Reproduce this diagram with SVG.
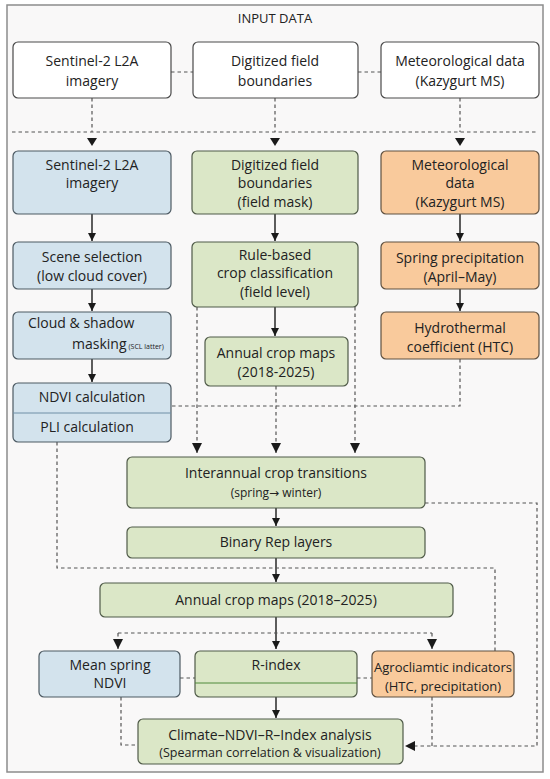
<svg xmlns="http://www.w3.org/2000/svg" width="550" height="779" viewBox="0 0 550 779">
<defs>
<marker id="ah" viewBox="0 0 10 10" refX="10" refY="5" markerWidth="8" markerHeight="8" markerUnits="userSpaceOnUse" orient="auto">
<path d="M0,0 L10,5 L0,10 z" fill="#1a1a1a"/>
</marker>
<marker id="ahd" viewBox="0 0 10 10" refX="10" refY="5" markerWidth="10" markerHeight="10" markerUnits="userSpaceOnUse" orient="auto">
<path d="M0,0 L10,5 L0,10 z" fill="#1a1a1a"/>
</marker>
<style>
text{font-family:"Open Sans","Noto Sans","DejaVu Sans",sans-serif;fill:#222;text-anchor:middle}
.t14{font-size:14px}
.t13{font-size:13px}
.t12{font-size:12px}
.white{fill:#ffffff;stroke:#4a4a4a;stroke-width:1.2}
.blue{fill:#d3e3ed;stroke:#4d5a63;stroke-width:1.2}
.green{fill:#dbe7c7;stroke:#4f5a48;stroke-width:1.2}
.orange{fill:#f9ca9c;stroke:#5e5040;stroke-width:1.2}
.solid{stroke:#1a1a1a;stroke-width:1.4;fill:none}
.dash{stroke:#555;stroke-width:1.2;fill:none;stroke-dasharray:3.5,3}
.tri{fill:#1a1a1a}
</style>
</defs>
<rect x="7" y="5" width="536" height="767" fill="#f9f8f8" stroke="#8c8c8c" stroke-width="1.5"/>
<text class="t13" x="275" y="23">INPUT DATA</text>

<g id="connectors">
<path class="dash" d="M171,72 H193 M358,72 H381"/>
<path class="dash" d="M92,98 V132 M275,98 V132 M460,98 V132"/>
<path class="dash" d="M12,132 H538"/>
<path class="tri" d="M87,138 H97 L92,146 z M270,138 H280 L275,146 z M455,138 H465 L460,146 z"/>
<path class="solid" d="M92,214 V241" marker-end="url(#ah)"/>
<path class="solid" d="M92,289 V311" marker-end="url(#ah)"/>
<path class="solid" d="M92,359 V382" marker-end="url(#ah)"/>
<path class="solid" d="M275,214 V241" marker-end="url(#ah)"/>
<path class="solid" d="M275,307 V336" marker-end="url(#ah)"/>
<path class="solid" d="M460,214 V241" marker-end="url(#ah)"/>
<path class="solid" d="M460,289 V311" marker-end="url(#ah)"/>
<path class="dash" d="M460,359 V406 H171"/>
<path class="dash" d="M197,307 V453" marker-end="url(#ahd)"/>
<path class="dash" d="M355,307 V453" marker-end="url(#ahd)"/>
<path class="dash" d="M276,386 V453" marker-end="url(#ahd)"/>
<path class="solid" d="M276,508 V526" marker-end="url(#ah)"/>
<path class="solid" d="M276,558 V582" marker-end="url(#ah)"/>
<path class="dash" d="M57,442 V568 H495 V651"/>
<path class="dash" d="M425,503 H537 V746 H405" marker-end="url(#ahd)"/>
<path class="solid" d="M276,617 V649" marker-end="url(#ah)"/>
<path class="dash" d="M118,633 H432"/>
<path class="dash" d="M118,633 V649" marker-end="url(#ahd)"/>
<path class="dash" d="M432,633 V649" marker-end="url(#ahd)"/>
<path class="dash" d="M180,678 H195 M357,678 H372"/>
<path class="solid" d="M276,697 V718" marker-end="url(#ah)"/>
<path class="dash" d="M121,697 V745 H138"/>
<path class="dash" d="M432,697 V746"/>
</g>

<g id="in-sentinel">
<rect class="white" x="13" y="42" width="158" height="56" rx="5"/>
<text class="t14" x="92" y="66">Sentinel-2 L2A</text>
<text class="t14" x="92" y="86">imagery</text>
</g>
<g id="in-fields">
<rect class="white" x="193" y="42" width="165" height="56" rx="5"/>
<text class="t14" x="275" y="66">Digitized field</text>
<text class="t14" x="275" y="86">boundaries</text>
</g>
<g id="in-meteo">
<rect class="white" x="381" y="42" width="158" height="56" rx="5"/>
<text class="t14" x="460" y="66">Meteorological data</text>
<text class="t14" x="460" y="86">(Kazygurt MS)</text>
</g>

<g id="sentinel">
<rect class="blue" x="13" y="151" width="158" height="63" rx="5"/>
<text class="t14" x="92" y="170">Sentinel-2 L2A</text>
<text class="t14" x="92" y="188">imagery</text>
</g>
<g id="scene">
<rect class="blue" x="13" y="242" width="158" height="47" rx="5"/>
<text class="t14" x="92" y="262">Scene selection</text>
<text class="t14" x="92" y="281">(low cloud cover)</text>
</g>
<g id="cloud">
<rect class="blue" x="13" y="312" width="158" height="47" rx="5"/>
<text class="t14" x="28" y="328" style="text-anchor:start">Cloud &amp; shadow</text>
<text class="t14" x="72" y="349" style="text-anchor:start">masking<tspan font-size="7" dx="2">(SCL latter)</tspan></text>
</g>
<g id="ndvi-pli">
<rect class="blue" x="13" y="383" width="158" height="59" rx="5"/>
<line x1="13" y1="413" x2="171" y2="413" stroke="#6f8fa6" stroke-width="1"/>
<text class="t14" x="92" y="402">NDVI calculation</text>
<text class="t14" x="87" y="432">PLI calculation</text>
</g>

<g id="fields">
<rect class="green" x="192" y="151" width="166" height="63" rx="5"/>
<text class="t14" x="275" y="170">Digitized field</text>
<text class="t14" x="275" y="188">boundaries</text>
<text class="t14" x="275" y="207">(field mask)</text>
</g>
<g id="rule">
<rect class="green" x="192" y="242" width="166" height="65" rx="5"/>
<text class="t14" x="275" y="260">Rule-based</text>
<text class="t14" x="275" y="278">crop classification</text>
<text class="t14" x="275" y="297">(field level)</text>
</g>
<g id="annual1">
<rect class="green" x="205" y="337" width="143" height="49" rx="5"/>
<text class="t14" x="276" y="358">Annual crop maps</text>
<text class="t14" x="276" y="377">(2018-2025)</text>
</g>

<g id="meteo">
<rect class="orange" x="381" y="151" width="158" height="63" rx="5"/>
<text class="t14" x="460" y="170">Meteorological</text>
<text class="t14" x="460" y="188">data</text>
<text class="t14" x="460" y="207">(Kazygurt MS)</text>
</g>
<g id="precip">
<rect class="orange" x="381" y="242" width="158" height="47" rx="5"/>
<text class="t14" x="460" y="263">Spring precipitation</text>
<text class="t14" x="460" y="282">(April–May)</text>
</g>
<g id="htc">
<rect class="orange" x="381" y="312" width="158" height="47" rx="5"/>
<text class="t14" x="460" y="333">Hydrothermal</text>
<text class="t14" x="460" y="352">coefficient (HTC)</text>
</g>

<g id="interannual">
<rect class="green" x="127" y="457" width="298" height="51" rx="5"/>
<text class="t14" x="276" y="478">Interannual crop transitions</text>
<text class="t12" x="276" y="497">(spring→ winter)</text>
</g>
<g id="binary">
<rect class="green" x="127" y="527" width="298" height="31" rx="5"/>
<text class="t14" x="276" y="547">Binary Rep layers</text>
</g>
<g id="annual2">
<rect class="green" x="100" y="583" width="353" height="34" rx="5"/>
<text class="t14" x="276" y="605">Annual crop maps (2018–2025)</text>
</g>

<g id="mean-ndvi">
<rect class="blue" x="39" y="651" width="141" height="46" rx="5"/>
<text class="t14" x="110" y="670">Mean spring</text>
<text class="t14" x="110" y="688">NDVI</text>
</g>
<g id="rindex">
<rect class="green" x="195" y="651" width="162" height="46" rx="5"/>
<line x1="195" y1="683" x2="357" y2="683" stroke="#4f8a3a" stroke-width="1"/>
<text class="t14" x="276" y="670">R-index</text>
</g>
<g id="agro">
<rect class="orange" x="372" y="651" width="142" height="46" rx="5"/>
<text class="t13" x="443" y="672">Agrocliamtic indicators</text>
<text class="t13" x="443" y="691">(HTC, precipitation)</text>
</g>
<g id="climate">
<rect class="green" x="138" y="719" width="265" height="45" rx="5"/>
<text class="t14" x="270" y="740">Climate–NDVI–R–Index analysis</text>
<text style="font-size:12.5px" x="270" y="757">(Spearman correlation &amp; visualization)</text>
</g>
</svg>
